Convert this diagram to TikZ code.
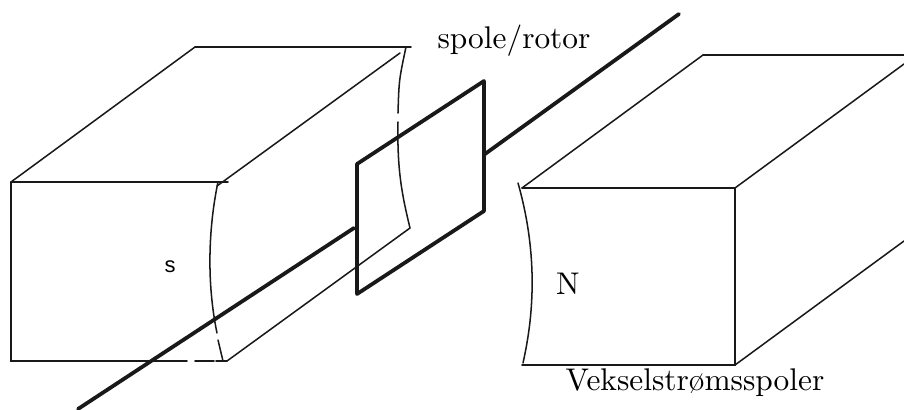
\documentclass[tikz,border=0pt]{standalone}
\usepackage{fontspec}
\newfontfamily\polefont{Liberation Sans}
\begin{document}
\begin{tikzpicture}[x=0.0116cm, y=-0.0116cm,
  edge/.style={draw=black!90, line width=0.5pt, line cap=round},
  coil/.style={draw=black!90, line width=1.25pt, line join=round, line cap=round},
  lbl/.style={inner sep=0pt, text=black, scale=1.035}
]
\useasboundingbox (0,0) rectangle (904,409);
% south pole
\draw[edge] (195,47) -- (11,182) -- (11,361) -- (187,361);
\draw[edge] (195,47) -- (411,47);
\draw[edge] (11,182) -- (228,182);
\draw[edge] (195,361) -- (214,361);
\draw[edge] (216,361) -- (227,361) -- (410,228);
\draw[edge] (217,186) -- (400,53);
\draw[edge] (218,182) .. controls (209,225) and (206,280) .. (217,333);
\draw[edge] (218,340) -- (223,361);
\draw[edge] (406,47) .. controls (399,80) .. (398,113);
\draw[edge] (398,122) .. controls (397,170) and (402,195) .. (410,228);
% shaft
\draw[coil] (78,409) -- (354,228);
\draw[coil] (485,154) -- (679,14);
% coil
\draw[coil] (357,164) -- (484,81) -- (484,211) -- (357,294) -- cycle;
% north pole
\draw[edge] (522,188) -- (735,188) -- (735,365) -- (522,365);
\draw[edge] (522,188) -- (703,55) -- (904,55);
\draw[edge] (735,188) -- (904,64);
\draw[edge] (735,365) -- (904,241);
\draw[edge] (518,183) .. controls (537,250) and (535,310) .. (523,363);
% labels
\node[lbl, font=\polefont\scriptsize] (south) at (170,267) {s};
\node[lbl] (north) at (568,284) {N};
\node[lbl] (rotor) at (514,41) {spole/rotor};
\node[lbl] (coils) at (695,383) {Vekselstrømsspoler};
\end{tikzpicture}
\end{document}
